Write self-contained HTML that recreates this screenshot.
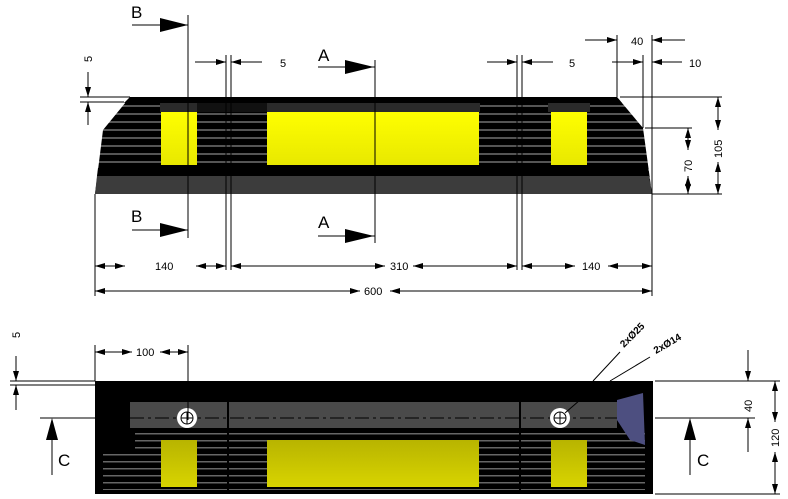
<!DOCTYPE html>
<html><head><meta charset="utf-8"><style>
html,body{margin:0;padding:0;background:#fff}
svg{display:block}
text{font-family:"Liberation Sans",sans-serif;fill:#000}
</style></head><body>
<svg width="788" height="499" viewBox="0 0 788 499" xmlns="http://www.w3.org/2000/svg">
<defs>
<pattern id="st" x="0" y="105" width="10" height="8" patternUnits="userSpaceOnUse">
<rect width="10" height="8" fill="#000"/><rect y="0" width="10" height="2" fill="#555"/></pattern>
<pattern id="st2" x="0" y="433" width="10" height="7" patternUnits="userSpaceOnUse">
<rect width="10" height="7" fill="#000"/><rect y="0" width="10" height="1.5" fill="#666"/></pattern>
<marker id="ar" viewBox="0 0 10 6" refX="10" refY="3" markerWidth="10" markerHeight="6" orient="auto-start-reverse" markerUnits="userSpaceOnUse"><path d="M0,0L10,3L0,6z" fill="#000"/></marker>
<linearGradient id="yg" x1="0" y1="0" x2="0" y2="1"><stop offset="0" stop-color="#ffff00"/><stop offset="1" stop-color="#e8e800"/></linearGradient>
<linearGradient id="yg2" x1="0" y1="0" x2="0" y2="1"><stop offset="0" stop-color="#b8b400"/><stop offset="1" stop-color="#d8d400"/></linearGradient>
</defs>

<!-- TOP VIEW -->
<path d="M130,97 L617,97 L643,128 L652,194 L95,194 L103,130 Z" fill="url(#st)"/>
<path d="M130,97 L617,97 L622,103 L124,103 Z" fill="#000"/>
<rect x="160" y="103" width="320" height="9" fill="#2a2a2a"/>
<rect x="197" y="103" width="70" height="9" fill="#111"/>
<rect x="548" y="103" width="42" height="9" fill="#2a2a2a"/>
<path d="M98,168 L648,168 L649,176 L97,176Z" fill="#000"/>
<path d="M97,176 L649,176 L652,194 L95,194Z" fill="#3c3c3c"/>
<rect x="161" y="112" width="36" height="53" fill="url(#yg)"/>
<rect x="267" y="112" width="212" height="53" fill="url(#yg)"/>
<rect x="551" y="112" width="36" height="53" fill="url(#yg)"/>
<g stroke="#000" stroke-width="1">
<line x1="226" y1="55" x2="226" y2="270"/><line x1="231" y1="55" x2="231" y2="270"/>
<line x1="517" y1="55" x2="517" y2="270"/><line x1="522" y1="55" x2="522" y2="270"/>
<line x1="188" y1="15" x2="188" y2="238"/><line x1="375" y1="60" x2="375" y2="243"/>
<line x1="95" y1="194" x2="95" y2="296"/><line x1="652" y1="194" x2="652" y2="296"/>
<line x1="617" y1="35" x2="617" y2="97"/><line x1="652" y1="35" x2="652" y2="194"/>
<line x1="643" y1="55" x2="643" y2="128"/>
<line x1="620" y1="97" x2="722" y2="97"/><line x1="652" y1="194" x2="722" y2="194"/>
<line x1="645" y1="128" x2="692" y2="128"/>
<line x1="80" y1="97" x2="130" y2="97"/><line x1="80" y1="102" x2="124" y2="102"/>
</g>
<g stroke="#000" stroke-width="1" fill="none">
<line x1="132" y1="25" x2="188" y2="25"/><line x1="318" y1="67" x2="375" y2="67"/>
<line x1="132" y1="230" x2="188" y2="230"/><line x1="318" y1="236" x2="375" y2="236"/>
</g>
<path d="M160,18 L188,25 L160,32Z"/><path d="M345,60 L374,67 L345,74Z"/>
<path d="M160,223 L188,230 L160,237Z"/><path d="M345,229 L374,236 L345,243Z"/>
<text x="131" y="18" font-size="17">B</text><text x="318" y="61" font-size="17">A</text>
<text x="131" y="222" font-size="17">B</text><text x="318" y="228" font-size="17">A</text>
<g stroke="#000" stroke-width="1" marker-end="url(#ar)">
<line x1="195" y1="62" x2="226" y2="62"/><line x1="262" y1="62" x2="231" y2="62"/>
<line x1="487" y1="62" x2="517" y2="62"/><line x1="553" y1="62" x2="522" y2="62"/>
<line x1="585" y1="40" x2="617" y2="40"/><line x1="685" y1="40" x2="652" y2="40"/>
<line x1="612" y1="62" x2="643" y2="62"/><line x1="682" y1="62" x2="652" y2="62"/>
<line x1="88" y1="72" x2="88" y2="97"/><line x1="88" y1="125" x2="88" y2="102"/>
</g>
<g stroke="#000" stroke-width="1" marker-start="url(#ar)" marker-end="url(#ar)">
<line x1="95" y1="266" x2="125" y2="266"/><line x1="196" y1="266" x2="226" y2="266"/>
<line x1="231" y1="266" x2="385" y2="266"/><line x1="413" y1="266" x2="517" y2="266"/>
<line x1="522" y1="266" x2="575" y2="266"/><line x1="608" y1="266" x2="652" y2="266"/>
<line x1="95" y1="291" x2="360" y2="291"/><line x1="390" y1="291" x2="652" y2="291"/>
<line x1="718" y1="97" x2="718" y2="130"/><line x1="718" y1="162" x2="718" y2="194"/>
<line x1="688" y1="128" x2="688" y2="150"/><line x1="688" y1="176" x2="688" y2="194"/>
</g>
<g font-size="11">
<text x="155" y="270">140</text><text x="390" y="270">310</text><text x="582" y="270">140</text>
<text x="364" y="295">600</text><text x="280" y="67">5</text><text x="569" y="67">5</text>
<text x="631" y="45">40</text><text x="689" y="67">10</text>
<text transform="translate(92,62) rotate(-90)">5</text>
<text transform="translate(722,158) rotate(-90)">105</text>
<text transform="translate(692,172) rotate(-90)">70</text>
</g>

<!-- BOTTOM VIEW -->
<rect x="95" y="381" width="558" height="113" fill="#000"/>
<rect x="103" y="433" width="542" height="57" fill="url(#st2)"/>
<rect x="95" y="429" width="40" height="20" fill="#000"/>
<rect x="130" y="402" width="487" height="26" fill="#4a4a4a"/>
<path d="M617,400 L643,393 L645,445 L630,440 L617,420Z" fill="#4d4f80"/>
<rect x="161" y="440" width="36" height="47" fill="url(#yg2)"/>
<rect x="267" y="440" width="212" height="47" fill="url(#yg2)"/>
<rect x="551" y="440" width="36" height="47" fill="url(#yg2)"/>
<g stroke="#000" stroke-width="2"><line x1="228" y1="386" x2="228" y2="490"/><line x1="520" y1="386" x2="520" y2="490"/></g>
<line x1="130" y1="418" x2="617" y2="418" stroke="#000" stroke-width="1" stroke-dasharray="14,4,3,4"/>
<circle cx="187" cy="418" r="10" fill="#fff"/><circle cx="187" cy="418" r="6" fill="none" stroke="#000"/>
<line x1="181" y1="418" x2="193" y2="418" stroke="#000"/><line x1="187" y1="412" x2="187" y2="424" stroke="#000"/>
<circle cx="560" cy="418" r="10" fill="#fff"/><circle cx="560" cy="418" r="6" fill="none" stroke="#000"/>
<line x1="554" y1="418" x2="566" y2="418" stroke="#000"/><line x1="560" y1="412" x2="560" y2="424" stroke="#000"/>
<g stroke="#000" stroke-width="1">
<line x1="95" y1="345" x2="95" y2="381"/><line x1="188" y1="345" x2="188" y2="420"/>
<line x1="10" y1="381" x2="95" y2="381"/><line x1="10" y1="385" x2="95" y2="385"/>
<line x1="40" y1="418" x2="95" y2="418"/>
<line x1="655" y1="381" x2="780" y2="381"/><line x1="655" y1="418" x2="755" y2="418"/>
<line x1="655" y1="494" x2="780" y2="494"/>
<line x1="52" y1="440" x2="52" y2="475"/><line x1="690" y1="440" x2="690" y2="475"/>
<line x1="593" y1="381" x2="620" y2="352"/><line x1="610" y1="381" x2="650" y2="357"/>
<line x1="565" y1="413" x2="580" y2="400"/>
</g>
<path d="M46,440 L52,418 L58,440Z"/><path d="M684,440 L690,418 L696,440Z"/>
<g stroke="#000" stroke-width="1" marker-end="url(#ar)">
<line x1="16" y1="356" x2="16" y2="381"/><line x1="16" y1="410" x2="16" y2="385"/>
<line x1="748" y1="350" x2="748" y2="381"/><line x1="748" y1="452" x2="748" y2="418"/>
</g>
<g stroke="#000" stroke-width="1" marker-start="url(#ar)" marker-end="url(#ar)">
<line x1="95" y1="352" x2="132" y2="352"/><line x1="160" y1="352" x2="188" y2="352"/>
<line x1="775" y1="381" x2="775" y2="422"/><line x1="775" y1="452" x2="775" y2="494"/>
</g>
<g font-size="11">
<text x="136" y="356">100</text>
<text transform="translate(20,338) rotate(-90)">5</text>
<text transform="translate(752,412) rotate(-90)">40</text>
<text transform="translate(779,447) rotate(-90)">120</text>
<text transform="translate(624,348) rotate(-45)" font-weight="bold" font-size="10">2xØ25</text>
<text transform="translate(656,354) rotate(-30)" font-weight="bold" font-size="10">2xØ14</text>
</g>
<text x="58" y="466" font-size="17">C</text><text x="697" y="466" font-size="17">C</text>
</svg>
</body></html>
